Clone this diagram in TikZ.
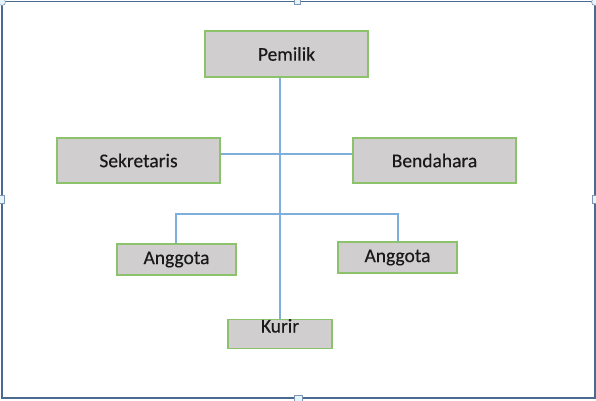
\documentclass[tikz,border=0pt]{standalone}
\usepackage{fontspec}
\setmainfont{Carlito}[FakeBold=0.35]
\usetikzlibrary{positioning}

\definecolor{boxfill}{HTML}{D0CECE}
\definecolor{boxline}{HTML}{8DC26C}
\definecolor{linkblue}{HTML}{7EAEDC}
\definecolor{framecol}{HTML}{4A6A8F}
\definecolor{handlefill}{HTML}{E6F3FA}

\tikzset{
    jabatan/.style={draw=boxline, fill=boxfill, line width=1.3pt, inner sep=0pt,
        font=\fontsize{19.5}{23}\selectfont, text=black!90},
    garis/.style={draw=linkblue, line width=1.3pt},
    handle/.style={draw=framecol!70, fill=handlefill, line width=0.6pt}
}

\begin{document}
\begin{tikzpicture}[x=1pt,y=-1pt]
            \useasboundingbox (0,0) rectangle (596,400);
            % bingkai
            \draw[framecol, line width=1.2pt] (2,1.5) rectangle (595,398);
            \draw[handle] (2,2) circle (3.5);
            \draw[handle] (595,2) circle (3.5);
            \draw[handle] (294,-1) rectangle (300,4);
            \draw[handle] (-1,195) rectangle (4,203);
            \draw[handle] (592,195) rectangle (598,203);
            \draw[handle] (294,395) rectangle (302,401);

            % kotak jabatan
            \node[jabatan, minimum width=163, minimum height=46] (pemilik) at (286.5,54) {Pemilik};
            \node[jabatan, minimum width=163, minimum height=45] (sekretaris) at (138.5,160.5) {Sekretaris};
            \node[jabatan, minimum width=163, minimum height=45] (bendahara) at (434.5,160.5) {Bendahara\hspace{18pt}};
            \node[jabatan, minimum width=119, minimum height=31] (anggota1) at (176.5,259.5) {Anggota\hspace{5pt}};
            \node[jabatan, minimum width=119, minimum height=31] (anggota2) at (397.5,257.5) {Anggota};
            \node[jabatan, minimum width=104, text height=13, text depth=16] (kurir) at (280,334) {Kurir};

            % garis hubung
            \coordinate (cabang1) at (280,154);
            \coordinate (cabang2) at (280,214);
            \draw[garis] (kurir.north) -- (kurir.north |- pemilik.south);
            \draw[garis] (cabang1 -| sekretaris.east) -- (cabang1 -| bendahara.west);
            \draw[garis] (anggota1.north -| 176,0) |- (cabang2) -| (anggota2.north -| 398,0);
        \end{tikzpicture}
\end{document}
